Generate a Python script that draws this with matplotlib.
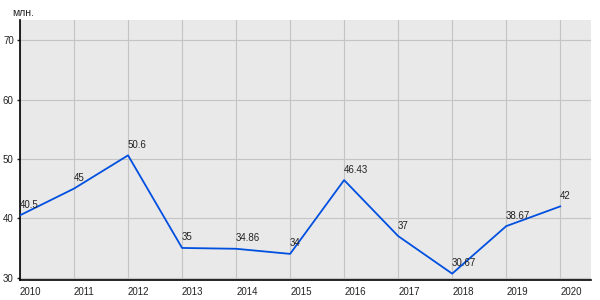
import matplotlib
matplotlib.use('Agg')
import matplotlib.pyplot as plt

years = [2010, 2011, 2012, 2013, 2014, 2015, 2016, 2017, 2018, 2019, 2020]
values = [40.5, 45, 50.6, 35, 34.86, 34, 46.43, 37, 30.67, 38.67, 42]
labels = ['40.5', '45', '50.6', '35', '34.86', '34', '46.43', '37', '30.67', '38.67', '42']
y_ticks = [30, 40, 50, 60, 70]

plt.rcParams['font.family'] = ['Liberation Sans', 'DejaVu Sans']

fig = plt.figure(figsize=(6.0, 3.0), dpi=100)
ax = fig.add_axes([20 / 600, 20 / 300, 571 / 600, 260 / 300])
ax.set_facecolor('#e9e9e9')

ax.plot(years, values, color='#0050e0', linewidth=1.3, zorder=3)
for x, y, lab in zip(years, values, labels):
    ax.annotate(lab, (x, y), xytext=(0, 4), textcoords='offset points',
                ha='left', va='bottom', fontsize=7, color='#222222', zorder=4)

ax.set_xlim(2010, 2020.57)
ax.set_ylim(29.6, 73.4)
ax.set_xticks(years)
ax.set_xticklabels([str(y) for y in years], ha='left')
ax.set_yticks(y_ticks)

ax.grid(True, color='#c4c4c4', linewidth=0.8)
ax.set_axisbelow(True)
for side in ['top', 'right']:
    ax.spines[side].set_visible(False)
for side in ['left', 'bottom']:
    ax.spines[side].set_color('black')
    ax.spines[side].set_linewidth(1.2)

ax.tick_params(axis='x', length=0, pad=5, labelsize=7, colors='#222222')
ax.tick_params(axis='y', length=2.5, width=1, pad=2, labelsize=7, colors='#222222')

fig.text(12 / 600, 1 - 13 / 300, 'млн.', fontsize=7.5, ha='left', va='center', color='#222222')

fig.savefig('out.png', dpi=100)
